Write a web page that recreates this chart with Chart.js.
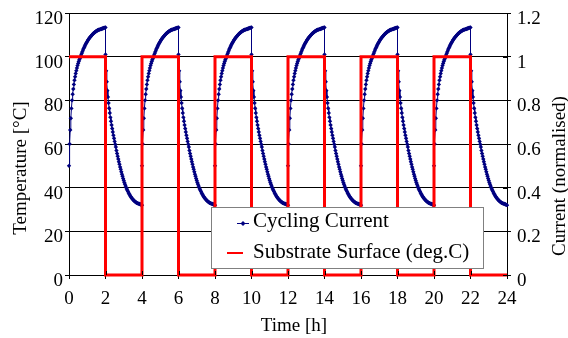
<!DOCTYPE html>
<html>
<head>
<meta charset="utf-8">
<script src="https://cdn.jsdelivr.net/npm/chart.js@4/dist/chart.umd.min.js"></script>
<style>
  html, body { margin: 0; padding: 0; background: #fff; }
  #wrap { width: 568px; height: 338px; position: relative; }
  #wrap canvas { position: absolute; left: 0; top: 0; }
  .tick {
    position: absolute; white-space: nowrap; color: #000;
    font-family: 'Liberation Serif', 'Times New Roman', serif; font-size: 19px; line-height: normal;
  }
  #fontwarm { position: absolute; left: -9999px; font-family: 'Liberation Serif'; font-size: 19px; }
</style>
</head>
<body>
<div id="wrap"><canvas id="chart" width="568" height="338"></canvas></div>
<span id="fontwarm">Temperature 0123456789</span>
<script>
// each cycle: 2 h heating then 2 h cooling, logged every 2 minutes
const cycleStarts = [0, 4, 8, 12, 16, 20];
const sampleMinutes = 2;

const heatingTemp = [
  50.0, 60.0, 66.4, 71.8, 76.3, 80.0, 82.8, 85.2, 87.3, 89.2,
  90.8, 92.3, 93.6, 94.8, 95.9, 96.9, 97.8, 98.6, 99.3, 100.0,
  100.8, 101.6, 102.3, 103.0, 103.7, 104.3, 104.9, 105.5, 106.0, 106.5,
  107.0, 107.5, 107.9, 108.3, 108.7, 109.0, 109.4, 109.7, 110.0, 110.3,
  110.6, 110.9, 111.1, 111.3, 111.5, 111.7, 111.9, 112.1, 112.2, 112.3,
  112.4, 112.5, 112.6, 112.7, 112.8, 112.9, 113.0, 113.1, 113.2, 113.3,
  113.4
];
const coolingTemp = [
  101.0, 93.5, 88.5, 84.5, 81.5, 78.8, 76.4, 74.2, 72.2, 70.4,
  68.7, 67.1, 65.5, 64.0, 62.6, 61.2, 59.9, 58.6, 57.0, 55.7,
  54.4, 53.1, 51.9, 50.7, 49.5, 48.4, 47.3, 46.2, 45.2, 44.2,
  43.3, 42.4, 41.6, 40.8, 40.1, 39.4, 38.8, 38.2, 37.6, 37.1,
  36.6, 36.1, 35.7, 35.3, 34.9, 34.6, 34.3, 34.0, 33.7, 33.5,
  33.3, 33.1, 32.9, 32.8, 32.7, 32.6, 32.5, 32.4, 32.3, 32.1,
  32.0
];

// on/off state of the substrate signal (right axis)
const switchTimes = [0, 2, 4, 6, 8, 10, 12, 14, 16, 18, 20, 22, 24];
const switchState = [1, 0, 1, 0, 1, 0, 1, 0, 1, 0, 1, 0, 0];

const FONT = "'Liberation Serif', 'Times New Roman', serif";
const NAVY = "#000080";
const RED = "#ff0000";

const current = [];
cycleStarts.forEach(t0 => {
  heatingTemp.forEach((v, i) => current.push({ x: t0 + i * sampleMinutes / 60, y: v }));
  coolingTemp.forEach((v, i) => current.push({ x: t0 + 2 + i * sampleMinutes / 60, y: v }));
});
const substrate = switchTimes.map((t, i) => ({ x: t, y: switchState[i] }));

const fmt = v => String(+v.toFixed(1));

/* axis titles, boxed legend, inner ticks */
const decor = {
  id: "decor",
  afterDatasetsDraw(chart) {
    const { ctx, chartArea: a, scales } = chart;
    ctx.save();
    ctx.strokeStyle = "#000";
    ctx.lineWidth = 1;
    ctx.beginPath();
    scales.x.ticks.forEach(t => {
      const px = Math.round(scales.x.getPixelForValue(t.value)) + 0.5;
      ctx.moveTo(px, a.bottom - 4);
      ctx.lineTo(px, a.bottom);
    });
    scales.y1.ticks.forEach(t => {
      const py = Math.round(scales.y1.getPixelForValue(t.value)) + 0.5;
      ctx.moveTo(a.right - 4, py);
      ctx.lineTo(a.right, py);
    });
    ctx.stroke();
    ctx.restore();
  },
  afterDraw(chart) {
    const ctx = chart.ctx;
    const ds = chart.data.datasets;
    ctx.save();

    // titles
    ctx.fillStyle = "#000";
    ctx.font = "19px " + FONT;
    ctx.textAlign = "center";
    ctx.textBaseline = "middle";
    ctx.fillText("Time [h]", 294, 326);
    ctx.save();
    ctx.translate(21, 168);
    ctx.rotate(-Math.PI / 2);
    ctx.fillText("Temperature [°C]", 0, 0);
    ctx.restore();
    ctx.save();
    ctx.translate(560, 176);
    ctx.rotate(-Math.PI / 2);
    ctx.fillText("Current (normalised)", 0, 0);
    ctx.restore();

    // legend box
    ctx.fillStyle = "#fff";
    ctx.fillRect(211.5, 207.5, 272, 61);
    ctx.strokeStyle = "#808080";
    ctx.lineWidth = 1;
    ctx.strokeRect(211.5, 207.5, 272, 61);
    ctx.strokeStyle = NAVY;
    ctx.beginPath();
    ctx.moveTo(237, 223.5);
    ctx.lineTo(249, 223.5);
    ctx.stroke();
    ctx.fillStyle = NAVY;
    ctx.beginPath();
    ctx.moveTo(243, 221); ctx.lineTo(245.5, 223.5); ctx.lineTo(243, 226); ctx.lineTo(240.5, 223.5);
    ctx.closePath();
    ctx.fill();
    ctx.strokeStyle = RED;
    ctx.lineWidth = 2;
    ctx.beginPath();
    ctx.moveTo(227, 253);
    ctx.lineTo(243, 253);
    ctx.stroke();
    ctx.fillStyle = "#000";
    ctx.font = "21px " + FONT;
    ctx.textAlign = "left";
    ctx.textBaseline = "alphabetic";
    ctx.fillText(ds[0].label, 253, 226.5);
    ctx.fillText(ds[1].label, 253, 258);
    ctx.restore();
  }
};

// tick labels as page text, placed from the chart's own scales
function addTickLabels(chart) {
  const wrap = document.getElementById("wrap");
  const a = chart.chartArea;
  const s = chart.scales;
  const put = (text, x, y, shift) => {
    const el = document.createElement("span");
    el.className = "tick";
    el.textContent = text;
    el.style.left = x + "px";
    el.style.top = y + "px";
    el.style.transform = shift;
    wrap.appendChild(el);
  };
  s.x.ticks.forEach(t => put(fmt(t.value), s.x.getPixelForValue(t.value), a.bottom + 22.5, "translate(-50%, -50%)"));
  s.y.ticks.forEach(t => put(fmt(t.value), a.left - 6, s.y.getPixelForValue(t.value) + 5, "translate(-100%, -50%)"));
  s.y1.ticks.forEach(t => put(fmt(t.value), a.right + 10, s.y1.getPixelForValue(t.value) + 5, "translate(0, -50%)"));
}

function draw() {
  const chart = new Chart(document.getElementById("chart"), {
    type: "line",
    data: {
      datasets: [
        {
          label: "Cycling Current",
          data: current,
          yAxisID: "y",
          borderColor: NAVY,
          backgroundColor: NAVY,
          borderWidth: 1,
          pointStyle: "rectRot",
          pointRadius: 2.2,
          pointBorderWidth: 0,
          clip: false,
          order: 2
        },
        {
          label: "Substrate Surface (deg.C)",
          data: substrate,
          yAxisID: "y1",
          stepped: "before",
          borderColor: RED,
          borderWidth: 3,
          pointRadius: 0,
          clip: false,
          order: 1
        }
      ]
    },
    options: {
      responsive: false,
      animation: false,
      layout: { padding: { top: 13 } },
      plugins: { legend: { display: false }, tooltip: { enabled: false } },
      scales: {
        x: {
          type: "linear",
          min: 0, max: 24,
          afterFit: s => { s.height = 63; },
          ticks: { stepSize: 2, display: false },
          grid: { drawOnChartArea: false, color: "#000", tickLength: 4 },
          border: { color: "#000" }
        },
        y: {
          position: "left",
          min: 0, max: 120,
          afterFit: s => { s.width = 69; },
          ticks: { stepSize: 20, display: false },
          grid: { color: "#000", tickLength: 4 },
          border: { color: "#000" }
        },
        y1: {
          position: "right",
          min: 0, max: 1.2,
          afterFit: s => { s.width = 61; },
          ticks: { stepSize: 0.2, display: false },
          grid: { drawOnChartArea: false, color: "#000", tickLength: 4 },
          border: { color: "#000" }
        }
      }
    },
    plugins: [decor]
  });
  addTickLabels(chart);
}

Promise.all(["19px", "21px"].map(s => document.fonts.load(s + " 'Liberation Serif'")))
  .then(draw, draw);
</script>
</body>
</html>
